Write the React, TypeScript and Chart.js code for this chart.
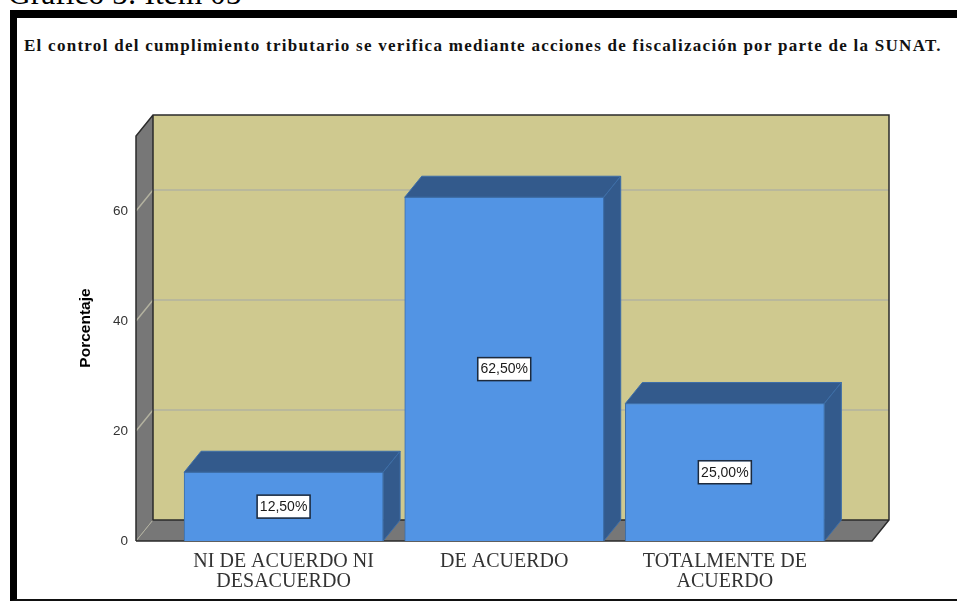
import React, { useEffect, useRef } from "react";
import { Chart, registerables } from "chart.js";

Chart.register(...registerables);

const categories = [
  ["NI DE ACUERDO NI", "DESACUERDO"],
  ["DE ACUERDO"],
  ["TOTALMENTE DE", "ACUERDO"],
];
const values = [12.5, 62.5, 25];
const yTickValues = [0, 20, 40, 60];
const captionText = "Gráfico 5: Item 05";
const chartTitle =
  "El control del cumplimiento tributario se verifica mediante acciones de fiscalización por parte de la SUNAT.";
const axisTitle = "Porcentaje";

const DX = 17;
const DY = 21;
const WALL = "#cfc98f";
const SIDE = "#777777";
const GRID = "#b3b2a0";
const BAR = "#5294e4";
const BAR_DARK = "#335a8c";
const BAR_EDGE = "#3d6ea8";
const EDGE = "#2b2b2b";

function poly(ctx: CanvasRenderingContext2D, pts: number[][], fill: string, stroke?: string) {
  ctx.beginPath();
  pts.forEach((p, i) => (i ? ctx.lineTo(p[0], p[1]) : ctx.moveTo(p[0], p[1])));
  ctx.closePath();
  ctx.fillStyle = fill;
  ctx.fill();
  if (stroke) {
    ctx.strokeStyle = stroke;
    ctx.lineWidth = 1;
    ctx.stroke();
  }
}

const box3d = {
  id: "box3d",
  beforeDatasetsDraw(chart: any) {
    const { ctx, chartArea: a, scales } = chart;
    const y = scales.y;
    const base = y.getPixelForValue(0);
    const l = a.left;
    const r = a.right - DX;
    const backL = l + DX;
    const backR = r + DX;
    const backT = a.top;
    const frontT = a.top + DY;
    ctx.save();
    poly(ctx, [[backL, backT], [backR, backT], [backR, base - DY], [backL, base - DY]], WALL);
    poly(ctx, [[l, frontT], [backL, backT], [backL, base - DY], [l, base]], SIDE);
    poly(ctx, [[l, base], [backL, base - DY], [backR, base - DY], [r, base]], SIDE);
    ctx.lineWidth = 1.5;
    ctx.strokeStyle = GRID;
    yTickValues.filter((v) => v > 0).forEach((v) => {
      const py = y.getPixelForValue(v);
      ctx.beginPath();
      ctx.moveTo(l, py);
      ctx.lineTo(backL, py - DY);
      ctx.lineTo(backR, py - DY);
      ctx.stroke();
    });
    ctx.lineWidth = 1;
    ctx.beginPath();
    ctx.moveTo(l, base);
    ctx.lineTo(backL, base - DY);
    ctx.stroke();
    ctx.strokeStyle = EDGE;
    ctx.lineWidth = 1.5;
    ctx.beginPath();
    ctx.moveTo(l, base);
    ctx.lineTo(l, frontT);
    ctx.lineTo(backL, backT);
    ctx.lineTo(backR, backT);
    ctx.lineTo(backR, base - DY);
    ctx.lineTo(r, base);
    ctx.lineTo(l, base);
    ctx.moveTo(backL, backT);
    ctx.lineTo(backL, base - DY);
    ctx.lineTo(backR, base - DY);
    ctx.stroke();
    chart.getDatasetMeta(0).data.forEach((bar: any) => {
      const half = bar.width / 2;
      const x0 = bar.x - half;
      const x1 = bar.x + half;
      poly(ctx, [[x0, bar.y], [x0 + DX, bar.y - DY], [x1 + DX, bar.y - DY], [x1, bar.y]], BAR_DARK, BAR_EDGE);
      poly(ctx, [[x1, bar.y], [x1 + DX, bar.y - DY], [x1 + DX, base - DY], [x1, base]], BAR_DARK, BAR_EDGE);
    });
    ctx.restore();
  },
  afterDatasetsDraw(chart: any) {
    const { ctx, scales } = chart;
    const base = scales.y.getPixelForValue(0);
    ctx.save();
    ctx.font = "14px 'Liberation Sans'";
    ctx.textAlign = "center";
    ctx.textBaseline = "middle";
    chart.getDatasetMeta(0).data.forEach((bar: any, i: number) => {
      const label = values[i].toFixed(2).replace(".", ",") + "%";
      const cy = (bar.y + base) / 2;
      ctx.fillStyle = "#ffffff";
      ctx.fillRect(bar.x - 26, cy - 11, 52, 22);
      ctx.strokeStyle = "#1d2a3c";
      ctx.lineWidth = 1.5;
      ctx.strokeRect(bar.x - 26.5, cy - 11.5, 53, 23);
      ctx.fillStyle = "#1a1a1a";
      ctx.fillText(label, bar.x, cy + 0.5);
    });
    ctx.restore();
  },
};

export default function App() {
  const ref = useRef<HTMLCanvasElement>(null);
  useEffect(() => {
    document.body.style.margin = "0";
    const chart = new Chart(ref.current as HTMLCanvasElement, {
      type: "bar",
      data: {
        datasets: [
          {
            data: values.map((v, i) => ({ x: i, y: v })),
            backgroundColor: BAR,
            borderColor: BAR_EDGE,
            borderWidth: 1,
            barThickness: 199,
          },
        ],
      },
      plugins: [box3d],
      options: {
        animation: false,
        responsive: false,
        layout: { padding: { left: 76, right: 68, top: 115, bottom: 2 } },
        plugins: { legend: { display: false }, tooltip: { enabled: false } },
        scales: {
          x: {
            type: "linear",
            offset: false,
            min: -0.669,
            max: 2.744,
            afterBuildTicks(scale: any) {
              scale.ticks = categories.map((_, i) => ({ value: i }));
            },
            afterFit(scale: any) {
              scale.height = 59;
            },
            grid: { display: false, tickLength: 0 },
            border: { display: false },
            ticks: {
              autoSkip: false,
              maxRotation: 0,
              minRotation: 0,
              padding: 11,
              color: "#333333",
              font: { family: "'Liberation Serif'", size: 20, lineHeight: 1 },
              callback: (v: any) => categories[v],
            },
          },
          y: {
            type: "linear",
            min: 0,
            max: 77.45,
            afterBuildTicks(scale: any) {
              scale.ticks = yTickValues.map((value) => ({ value }));
            },
            afterFit(scale: any) {
              scale.width = 60;
            },
            grid: { display: false, tickLength: 0 },
            border: { display: false },
            title: {
              display: true,
              text: axisTitle,
              color: "#000000",
              padding: { top: 0, bottom: 0 },
              font: { family: "'Liberation Sans'", size: 15.5, weight: "bold" },
            },
            ticks: {
              padding: 8,
              color: "#333333",
              font: { family: "'Liberation Sans'", size: 13.5 },
            },
          },
        },
      },
    } as any);
    return () => chart.destroy();
  }, []);
  return (
    <div style={{ position: "relative", width: 957, height: 602, overflow: "hidden", background: "#fff" }}>
      <div
        style={{
          position: "absolute",
          left: 8,
          top: -25,
          fontFamily: "'Liberation Serif'",
          fontSize: 31.5,
          lineHeight: "38px",
          color: "#000",
          whiteSpace: "nowrap",
        }}
      >
        {captionText}
      </div>
      <div
        style={{
          position: "absolute",
          left: 10,
          top: 10,
          width: 947,
          height: 591,
          boxSizing: "border-box",
          borderLeft: "7px solid #000",
          borderTop: "8px solid #000",
          borderBottom: "2px solid #111",
          background: "#fff",
        }}
      />
      <div
        style={{
          position: "absolute",
          left: 24,
          top: 36,
          fontFamily: "'Liberation Serif'",
          fontWeight: "bold",
          fontSize: 17,
          letterSpacing: "1.27px",
          lineHeight: "20px",
          color: "#111",
          whiteSpace: "nowrap",
        }}
      >
        {chartTitle}
      </div>
      <canvas ref={ref} width={957} height={602} style={{ position: "absolute", left: 0, top: 0 }} />
    </div>
  );
}
